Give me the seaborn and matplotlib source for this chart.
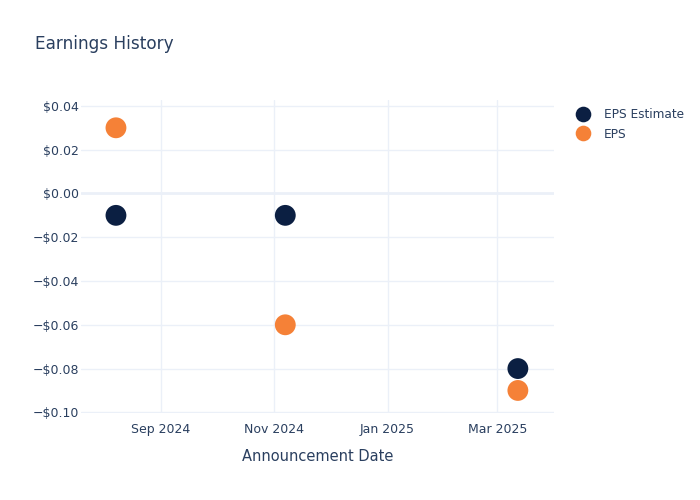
import matplotlib
matplotlib.use("Agg")
import matplotlib.pyplot as plt
import matplotlib.dates as mdates
import matplotlib.ticker as mticker
import seaborn as sns
import pandas as pd

dates = ["2024-08-08", "2024-11-07", "2025-03-12"]
eps_estimate = [-0.01, -0.01, -0.08]
eps_actual = [0.03, -0.06, -0.09]
series_names = ["EPS Estimate", "EPS"]
y_ticks = [0.04, 0.02, 0.0, -0.02, -0.04, -0.06, -0.08, -0.10]
x_ticks = ["2024-09-01", "2024-11-01", "2025-01-01", "2025-03-01"]

df = pd.DataFrame({
    "date": pd.to_datetime(dates * 2),
    "value": eps_estimate + eps_actual,
    "series": [series_names[0]] * 3 + [series_names[1]] * 3,
})

sns.set_theme(style="white")
plt.rcParams["font.family"] = ["DejaVu Sans"]
text_color = "#2a3f5f"
grid_color = "#ebf0f8"
palette = {"EPS Estimate": "#0b1f42", "EPS": "#f58137"}

fig = plt.figure(figsize=(7, 5), dpi=100)
ax = fig.add_axes([81 / 700, 1 - 413 / 500, (554 - 81) / 700, (413 - 100) / 500])

for y in y_ticks:
    ax.axhline(y, color=grid_color, lw=1.0 if y != 0 else 2.0, zorder=0)
for d in x_ticks:
    ax.axvline(pd.Timestamp(d), color=grid_color, lw=1.0, zorder=0)

sns.scatterplot(data=df, x="date", y="value", hue="series", palette=palette,
                s=225, linewidth=0, ax=ax, zorder=3)

ax.set_xlim(pd.Timestamp("2024-07-20 05:00"), pd.Timestamp("2025-03-31 10:00"))
ax.set_ylim(-0.1003, 0.0427)
ax.set_xticks([pd.Timestamp(d) for d in x_ticks])
ax.xaxis.set_major_formatter(mdates.DateFormatter("%b %Y"))
ax.set_yticks(y_ticks)


def fmt(v, pos=None):
    if abs(v) < 1e-9:
        return "$0.00"
    s = f"${abs(v):.2f}"
    return ("\u2212" + s) if v < 0 else s


ax.yaxis.set_major_formatter(mticker.FuncFormatter(fmt))
ax.tick_params(axis="both", length=0, labelsize=9, colors=text_color)
ax.tick_params(axis="x", pad=7.5)
ax.tick_params(axis="y", pad=1.5)
for sp in ax.spines.values():
    sp.set_visible(False)
ax.grid(False)

ax.set_ylabel("")
ax.set_xlabel("Announcement Date", fontsize=10.5, color=text_color)
ax.xaxis.set_label_coords(0.5, (413 - 449) / 313)

fig.text(35 / 700, 1 - 44 / 500, "Earnings History", fontsize=12.2,
         color=text_color, va="center", ha="left")

leg = ax.legend(loc="upper left", bbox_to_anchor=(577 / 700, 1 - 108 / 500),
                bbox_transform=fig.transFigure, frameon=False, fontsize=8.7,
                labelspacing=0.55, handletextpad=1.2, borderaxespad=0,
                borderpad=0, markerscale=0.75, handlelength=1.0)
for t in leg.get_texts():
    t.set_color(text_color)

fig.savefig("out.png", dpi=100, facecolor="white")
